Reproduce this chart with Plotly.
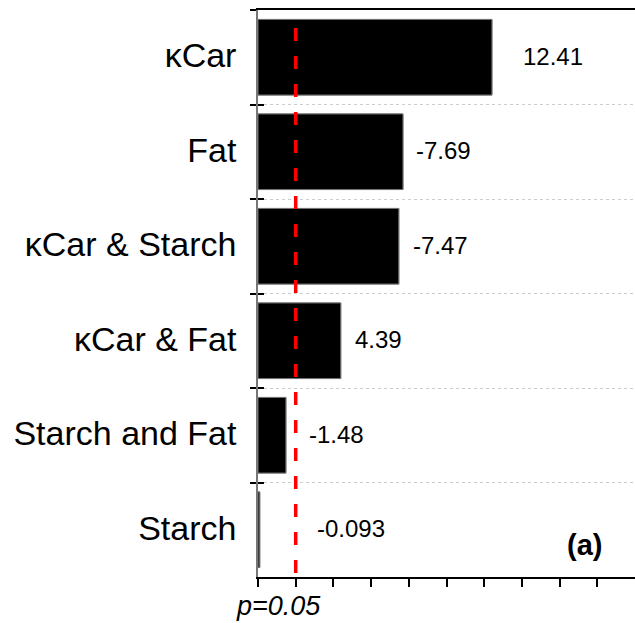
import plotly.graph_objects as go

# Standardized effects (t-values) for each factor / interaction
factors = ["κCar", "Fat", "κCar & Starch", "κCar & Fat", "Starch and Fat", "Starch"]
effects = [12.41, -7.69, -7.47, 4.39, -1.48, -0.093]
magnitudes = [abs(v) for v in effects]
value_labels = ["12.41", "-7.69", "-7.47", "4.39", "-1.48", "-0.093"]
label_gap_px = [29, 11, 12, 12, 21, 55]

# Critical t-value at p = 0.05
t_crit = 2.0
x_max = 20
x_ticks = list(range(0, 19, 2))

FONT = "Arial, Liberation Sans, sans-serif"

fig = go.Figure()
fig.add_trace(go.Bar(
    x=magnitudes, y=factors, orientation="h",
    marker=dict(color="black", line=dict(color="#777777", width=1)),
    width=0.8, hoverinfo="skip", showlegend=False,
))
# Same bars on an overlaid axis that carries the inner half of the boundary ticks
fig.add_trace(go.Bar(
    x=magnitudes, y=factors, orientation="h", yaxis="y2",
    marker=dict(color="black", line=dict(color="#777777", width=1)),
    width=0.8, hoverinfo="skip", showlegend=False,
))

# Value labels beside each bar
for f, m, txt, gap in zip(factors, magnitudes, value_labels, label_gap_px):
    fig.add_annotation(x=m, y=f, text=txt, showarrow=False, xanchor="left",
                       xshift=gap, yshift=1,
                       font=dict(family=FONT, size=24, color="black"))

# Significance threshold line
fig.add_shape(type="line", x0=t_crit, x1=t_crit, y0=0.007, y1=0.985,
              xref="x", yref="paper",
              line=dict(color="#ff0000", width=3.5, dash="13px,15px"))
fig.add_annotation(x=t_crit, y=-0.052, xref="x", yref="paper", text="<i>p=0.05</i>",
                   showarrow=False, xanchor="center", xshift=-17, yanchor="middle",
                   font=dict(family=FONT, size=27, color="black"))
fig.add_annotation(x=0.866, y=0.056, xref="paper", yref="paper", text="<b>(a)</b>",
                   showarrow=False, xanchor="center", yanchor="middle",
                   font=dict(family=FONT, size=29, color="black"))

fig.update_layout(
    width=635, height=623,
    margin=dict(l=258, r=0, t=10, b=46),
    paper_bgcolor="white", plot_bgcolor="white",
    font=dict(family=FONT, color="black"),
    xaxis=dict(range=[0, x_max], tickvals=x_ticks, showticklabels=False,
               ticks="outside", ticklen=8, tickwidth=1.5, tickcolor="black",
               showline=True, linecolor="black", linewidth=2, mirror=True,
               showgrid=False, zeroline=False),
    yaxis=dict(autorange="reversed", tickson="boundaries", ticks="outside",
               ticklen=6, tickwidth=1.5, tickcolor="black",
               showline=True, linecolor="#777777", linewidth=1.5,
               showgrid=True, gridcolor="#cccccc", griddash="dot", gridwidth=1,
               tickfont=dict(family=FONT, size=34, color="black"),
               ticklabelstandoff=13, ticklabelshift=2),
    yaxis2=dict(overlaying="y", matches="y", side="left",
                tickson="boundaries", ticks="inside", ticklen=6, tickwidth=1.5,
                tickcolor="black", showticklabels=False, showgrid=False,
                showline=False, zeroline=False),
    bargap=0.2,
)

fig.write_html("out.html")
